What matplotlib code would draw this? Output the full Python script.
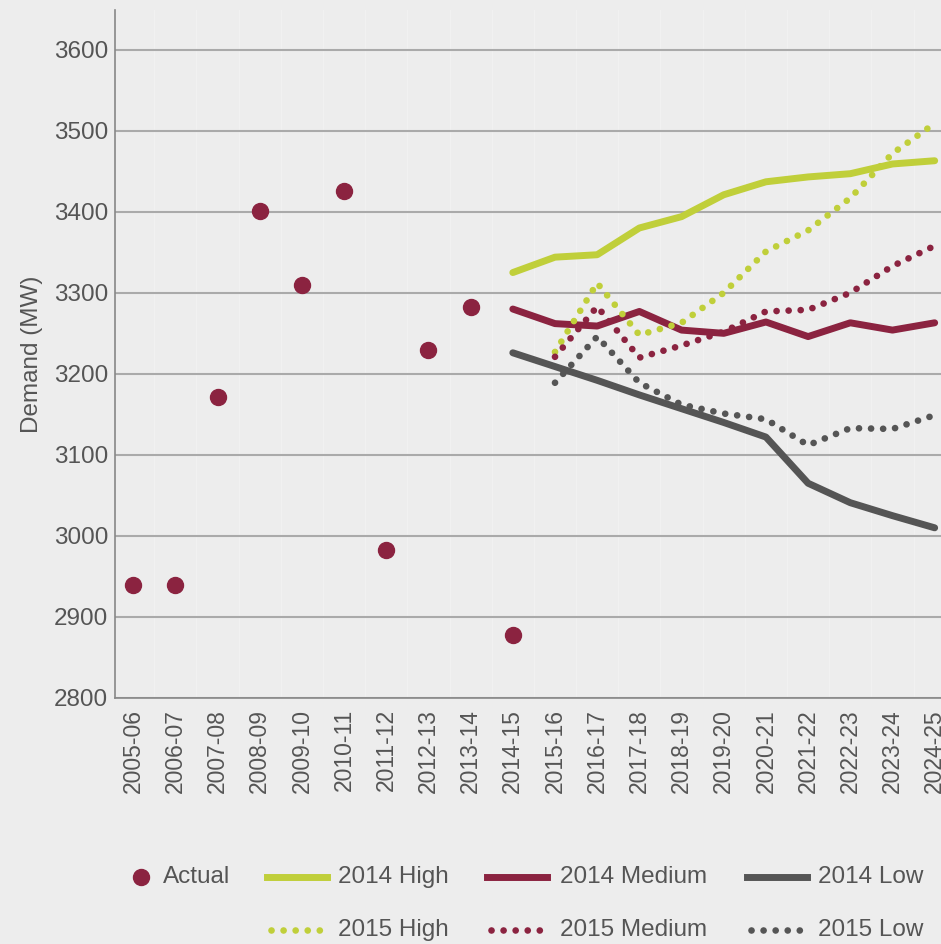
import matplotlib
matplotlib.use("Agg")
import matplotlib.pyplot as plt
from matplotlib.lines import Line2D
import numpy as np

# --- data ---
years = ["2005-06", "2006-07", "2007-08", "2008-09", "2009-10", "2010-11", "2011-12",
         "2012-13", "2013-14", "2014-15", "2015-16", "2016-17", "2017-18", "2018-19",
         "2019-20", "2020-21", "2021-22", "2022-23", "2023-24", "2024-25"]

actual = [2940, 2940, 3172, 3401, 3310, 3426, 2983, 3230, 3283, 2878]

# 2014 forecasts start at 2014-15
high_2014 = [3325, 3344, 3347, 3380, 3394, 3421, 3437, 3443, 3447, 3459, 3463]
med_2014  = [3280, 3262, 3259, 3277, 3254, 3250, 3264, 3246, 3263, 3254, 3263]
low_2014  = [3226, 3209, 3192, 3174, 3157, 3140, 3122, 3065, 3041, 3025, 3010]

# 2015 forecasts start at 2015-16
high_2015 = [3227, 3312, 3248, 3263, 3300, 3351, 3377, 3417, 3472, 3509]
med_2015  = [3221, 3283, 3220, 3235, 3252, 3277, 3279, 3300, 3333, 3358]
low_2015  = [3189, 3246, 3189, 3162, 3151, 3144, 3112, 3133, 3132, 3149]

GREEN, MAROON, GREY = "#c0cf3a", "#8b2340", "#555555"
BG = "#ededed"
TXT = "#555555"
FS = 17.5

plt.rcParams["font.family"] = ["Liberation Sans", "DejaVu Sans"]

fig = plt.figure(figsize=(9.41, 9.44), dpi=100, facecolor=BG)
ax = fig.add_axes([0.1222, 0.2606, 0.8778, 0.7288], facecolor=BG)

x = np.arange(len(years))
x14 = x[9:]
x15 = x[10:]
dot = (0, (0.01, 1.8))
solid = dict(lw=5, solid_capstyle="round")
dotted = dict(lw=4.8, ls=dot, dash_capstyle="round")

ax.plot(x14, high_2014, color=GREEN, **solid)
ax.plot(x14, med_2014, color=MAROON, **solid)
ax.plot(x14, low_2014, color=GREY, **solid)
ax.plot(x15, high_2015, color=GREEN, **dotted)
ax.plot(x15, med_2015, color=MAROON, **dotted)
ax.plot(x15, low_2015, color=GREY, **dotted)
ax.plot(x[:10], actual, "o", color=MAROON, ms=11.5, ls="none", zorder=5)

ax.set_xlim(-0.43, 19.15)
ax.set_ylim(2800, 3649)
ax.set_yticks(np.arange(2800, 3601, 100))
ax.set_xticks(x)
ax.set_xticklabels(years, rotation=90)
ax.set_xticks(x[:-1] + 0.5, minor=True)
ax.grid(axis="y", color="#aaaaaa", lw=1.5, zorder=0)
ax.grid(axis="x", which="minor", color="#f1f1f1", lw=1, zorder=0)
ax.set_axisbelow(True)
ax.tick_params(axis="both", which="both", length=0, colors=TXT)
ax.tick_params(axis="y", labelsize=FS, pad=5)
ax.tick_params(axis="x", labelsize=16.5, pad=8)
for s in ["top", "right"]:
    ax.spines[s].set_visible(False)
for s in ["left", "bottom"]:
    ax.spines[s].set_color("#888888")
    ax.spines[s].set_linewidth(1.2)
ax.set_ylabel("Demand (MW)", fontsize=FS, color=TXT, labelpad=8)

# legend drawn by hand in figure fractions (two rows, first column only has "Actual")
W, H = 941.0, 944.0
row_y = [1 - 877 / H, 1 - 930 / H]
fig.add_artist(Line2D([141 / W], [row_y[0]], marker="o", color=MAROON, ms=11.5,
                      ls="none", transform=fig.transFigure))
fig.text(163 / W, row_y[0], "Actual", fontsize=FS, color=TXT, va="center")
cols = [(267, 338, GREEN, "High"), (487, 560, MAROON, "Medium"), (747, 818, GREY, "Low")]
for x0, tx, c, name in cols:
    fig.add_artist(Line2D([x0 / W, (x0 + 60) / W], [row_y[0]] * 2, color=c, lw=5,
                          transform=fig.transFigure))
    fig.text(tx / W, row_y[0], f"2014 {name}", fontsize=FS, color=TXT, va="center")
    fig.add_artist(Line2D([(x0 + 4) / W, (x0 + 60) / W], [row_y[1]] * 2, color=c, lw=4.8,
                          ls=dot, dash_capstyle="round", transform=fig.transFigure))
    fig.text(tx / W, row_y[1], f"2015 {name}", fontsize=FS, color=TXT, va="center")

fig.savefig("out.png", dpi=100, facecolor=BG)
